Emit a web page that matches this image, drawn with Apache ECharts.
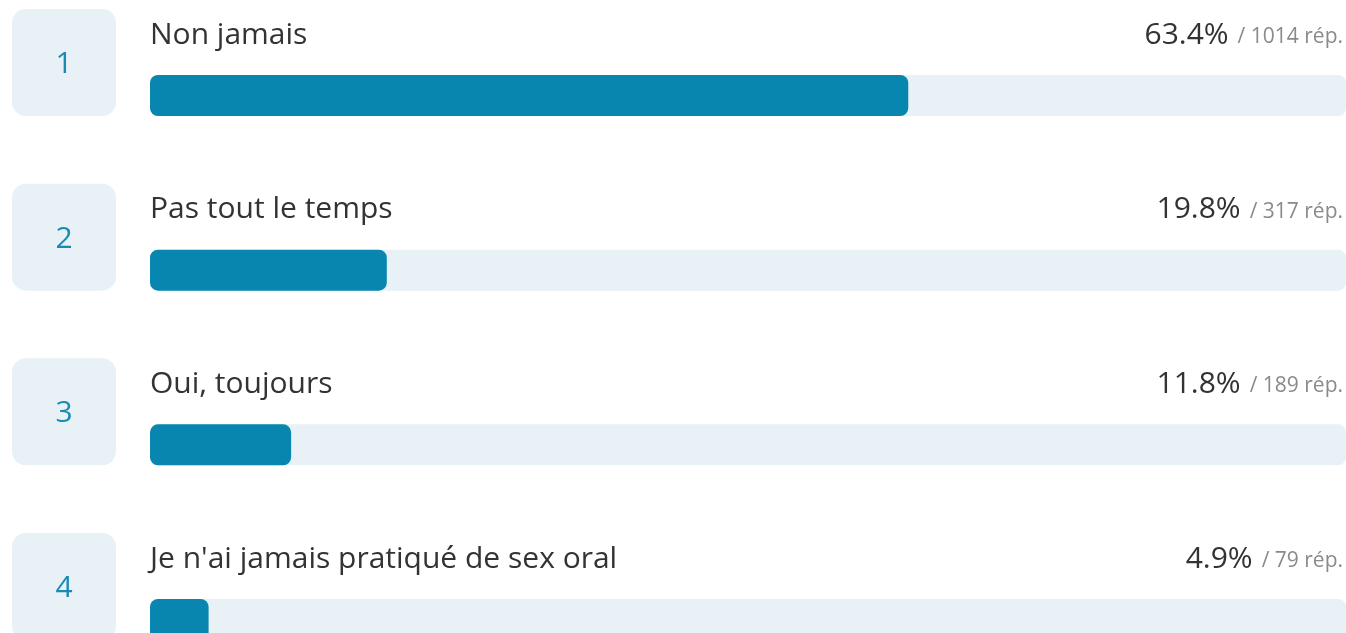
<!DOCTYPE html>
<html><head><meta charset="utf-8">
<style>html,body{margin:0;padding:0;background:#fff}#c{width:1346px;height:633px}</style>
<script src="https://cdn.jsdelivr.net/npm/echarts@6/dist/echarts.min.js"></script>
</head><body><div id="c"></div>
<script>
const categories = ['Non jamais', 'Pas tout le temps', 'Oui, toujours', "Je n'ai jamais pratiqué de sex oral"];
const percents = [63.4, 19.8, 11.8, 4.9];
const counts = [1014, 317, 189, 79];
const ranks = ['1', '2', '3', '4'];

const FONT = '"Open Sans", "Noto Sans", sans-serif';
const chart = echarts.init(document.getElementById('c'));
const rowH = 174.67;
const gridH = rowH * categories.length;
chart.setOption({
  animation: false,
  grid: [
    {left: 150, right: 0, top: 95.5 - rowH / 2, height: gridH, outerBoundsMode: 'none', containLabel: false},
    {left: 12, width: 104, top: 62.5 - rowH / 2, height: gridH, outerBoundsMode: 'none', containLabel: false}
  ],
  xAxis: [
    {gridIndex: 0, type: 'value', min: 0, max: 100, show: false},
    {gridIndex: 1, type: 'value', min: 0, max: 1, show: false}
  ],
  yAxis: [
    {gridIndex: 0, type: 'category', data: categories, inverse: true, show: false},
    {gridIndex: 1, type: 'category', data: ranks, inverse: true, show: false}
  ],
  series: [
    {
      type: 'bar', xAxisIndex: 0, yAxisIndex: 0, silent: true,
      data: categories.map(() => 100), barWidth: 41, z: 1,
      itemStyle: {color: '#e8f1f5', borderRadius: 8},
      label: {
        show: true, position: ['100%', -40], offset: [-3, 0], align: 'right', verticalAlign: 'middle',
        formatter: p => '{p|' + percents[p.dataIndex].toFixed(1) + '%}{c|/ ' + counts[p.dataIndex] + ' rép.}',
        rich: {
          p: {fontFamily: FONT, fontSize: 30, color: '#333'},
          c: {fontFamily: FONT, fontSize: 21, color: '#8a8a8a', padding: [4, 0, 0, 9]}
        }
      }
    },
    {
      type: 'bar', xAxisIndex: 0, yAxisIndex: 0, silent: true,
      data: percents, barWidth: 41, barGap: '-100%', z: 2,
      itemStyle: {color: '#0986b0', borderRadius: 8},
      label: {
        show: true, position: [0, -40], align: 'left', verticalAlign: 'middle',
        formatter: p => categories[p.dataIndex],
        fontFamily: FONT, fontSize: 30, color: '#333'
      }
    },
    {
      type: 'bar', xAxisIndex: 1, yAxisIndex: 1, silent: true,
      data: ranks.map(() => 1), barWidth: 107,
      itemStyle: {color: '#e8f1f5', borderRadius: 14},
      label: {
        show: true, position: 'inside', formatter: p => ranks[p.dataIndex],
        fontFamily: FONT, fontSize: 30, color: '#1a8ab5', offset: [0, 2]
      }
    }
  ]
});
</script></body></html>
